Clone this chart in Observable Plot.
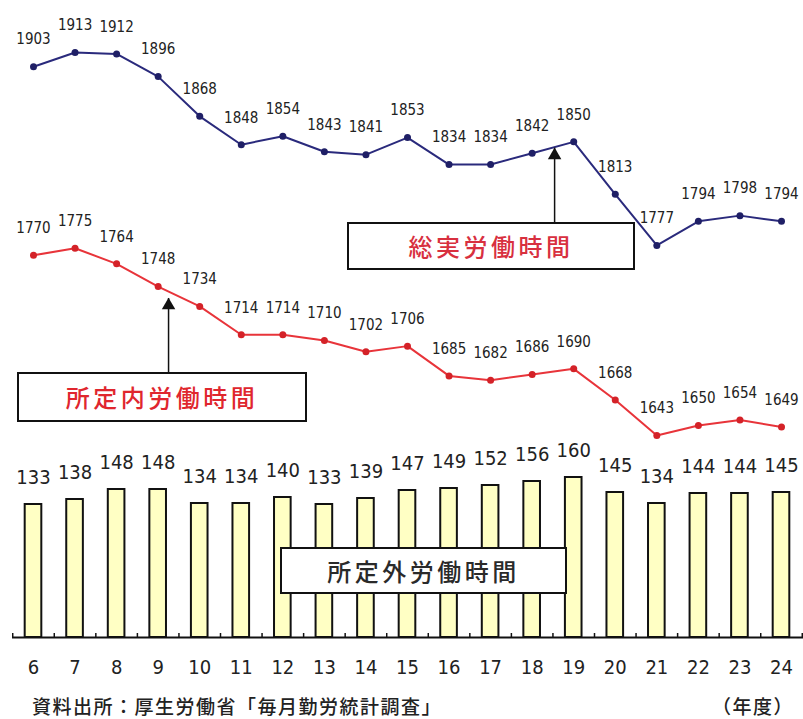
<!DOCTYPE html>
<html>
<head>
<meta charset="utf-8">
<script src="https://cdn.jsdelivr.net/npm/d3@7"></script>
<script src="https://cdn.jsdelivr.net/npm/@observablehq/plot@0.6"></script>
<style>
  body { margin: 0; background: #fff; }
  #chart { position: relative; width: 803px; height: 719px; overflow: hidden; background: #fff;
           font-family: "Liberation Sans Narrow", "DejaVu Sans Condensed", "Liberation Sans", sans-serif; }
  #chart svg { position: absolute; left: 0; top: 0; }
  .box { position: absolute; box-sizing: border-box; border: 2px solid #111; background: #fff;
         display: flex; align-items: center; justify-content: center;
         font-family: "Noto Sans CJK JP", sans-serif; font-size: 24px; letter-spacing: 3.5px; line-height: 1; font-weight: 500; }
  .cap { position: absolute; top: 692px; font-family: "Noto Sans CJK JP", sans-serif; font-size: 19px;
         color: #222; letter-spacing: 1.5px; line-height: 27px; font-weight: 500; }
</style>
</head>
<body>
<div id="chart"></div>
<script>
// ---- data ----
const years = [6, 7, 8, 9, 10, 11, 12, 13, 14, 15, 16, 17, 18, 19, 20, 21, 22, 23, 24];
const totalHours = [1903, 1913, 1912, 1896, 1868, 1848, 1854, 1843, 1841, 1853, 1834, 1834, 1842, 1850, 1813, 1777, 1794, 1798, 1794];
const scheduledHours = [1770, 1775, 1764, 1748, 1734, 1714, 1714, 1710, 1702, 1706, 1685, 1682, 1686, 1690, 1668, 1643, 1650, 1654, 1649];
const overtimeHours = [133, 138, 148, 148, 134, 134, 140, 133, 139, 147, 149, 152, 156, 160, 145, 134, 144, 144, 145];
const tickLabels = years.map(String);
const boundaryTicks = [5.5, 6.5, 7.5, 8.5, 9.5, 10.5, 11.5, 12.5, 13.5, 14.5, 15.5, 16.5, 17.5, 18.5, 19.5, 20.5, 21.5, 22.5, 23.5, 24.5];
// annotation arrows: x (year), tip value, base value (hours)
const arrowNotes = [
  {x: 18.54, tip: 1845.5, base: 1792.5},
  {x: 9.25, tip: 1739.6, base: 1687.4}
];

const total = years.map((y, i) => ({year: y, value: totalHours[i]}));
const sched = years.map((y, i) => ({year: y, value: scheduledHours[i]}));
const over = years.map((y, i) => ({year: y, value: overtimeHours[i], label: String(overtimeHours[i])}));

const xScale = {type: "linear", domain: [6, 24], range: [33, 781]};
const numFont = "'Liberation Sans Narrow', 'DejaVu Sans Condensed', 'Liberation Sans', sans-serif";

// ---- bars (所定外労働時間) ----
const bars = Plot.plot({
  width: 803, height: 690,
  marginLeft: 12, marginRight: 0, marginTop: 0, marginBottom: 53,
  style: {background: "transparent", fontFamily: numFont},
  x: {...xScale, axis: null},
  y: {domain: [0, 160], range: [637, 477], axis: null},
  marks: [
    Plot.rectY(over, {x1: d => d.year - 0.2, x2: d => d.year + 0.2, y: "value", fill: "#ffffc4", stroke: "#111", strokeWidth: 2}),
    Plot.ruleY([0], {stroke: "#111", strokeWidth: 2}),
    Plot.ruleX(boundaryTicks, {x: d => d, y1: 0, y2: 4, stroke: "#111", strokeWidth: 1.5}),
    Plot.text(over, {x: "year", y: "value", text: "label", dy: -27, fontSize: 20, fill: "#222", fontFamily: numFont}),
    Plot.axisX({ticks: years, tickFormat: d => tickLabels[years.indexOf(d)], label: null, tickSize: 0, tickPadding: 22, fontSize: 20, fill: "#222", fontFamily: numFont})
  ]
});

// ---- lines (総実労働時間 / 所定内労働時間) ----
const lines = Plot.plot({
  width: 803, height: 719, margin: 0,
  style: {background: "transparent", fontFamily: numFont},
  x: {...xScale, axis: null},
  y: {domain: [1643, 1913], range: [435, 52], axis: null},
  marks: [
    Plot.line(total, {x: "year", y: "value", stroke: "#2a2a7c", strokeWidth: 2}),
    Plot.dot(total, {x: "year", y: "value", r: 3.5, fill: "#1f1f66"}),
    Plot.text(total, {x: "year", y: "value", text: d => String(d.value), dy: -27, fontSize: 15, fill: "#222"}),
    Plot.line(sched, {x: "year", y: "value", stroke: "#e8343a", strokeWidth: 2}),
    Plot.dot(sched, {x: "year", y: "value", r: 3.5, fill: "#d42228"}),
    Plot.text(sched, {x: "year", y: "value", text: d => String(d.value), dy: -27, fontSize: 15, fill: "#222"}),
    Plot.ruleX(arrowNotes, {x: "x", y1: "base", y2: "tip", stroke: "#111", strokeWidth: 1.5}),
    Plot.dot(arrowNotes, {x: "x", y: "tip", symbol: "triangle", r: 5, fill: "#111", dy: 7})
  ]
});

const chart = document.getElementById("chart");
chart.appendChild(bars);
chart.appendChild(lines);

function addBox(text, left, top, w, h, color) {
  const d = document.createElement("div");
  d.className = "box";
  d.style.left = left + "px"; d.style.top = top + "px";
  d.style.width = w + "px"; d.style.height = h + "px";
  d.style.color = color;
  d.textContent = text;
  chart.appendChild(d);
}
addBox("総実労働時間", 347, 222, 288, 48, "#d8303f");
addBox("所定内労働時間", 17, 372, 290, 50, "#e0262e");
addBox("所定外労働時間", 280, 547, 287, 47, "#2a2a2a");

const c1 = document.createElement("div");
c1.className = "cap"; c1.style.left = "32px";
c1.textContent = "資料出所：厚生労働省「毎月勤労統計調査」";
chart.appendChild(c1);
const c2 = document.createElement("div");
c2.className = "cap"; c2.style.left = "712px";
c2.textContent = "（年度）";
chart.appendChild(c2);
</script>
</body>
</html>
